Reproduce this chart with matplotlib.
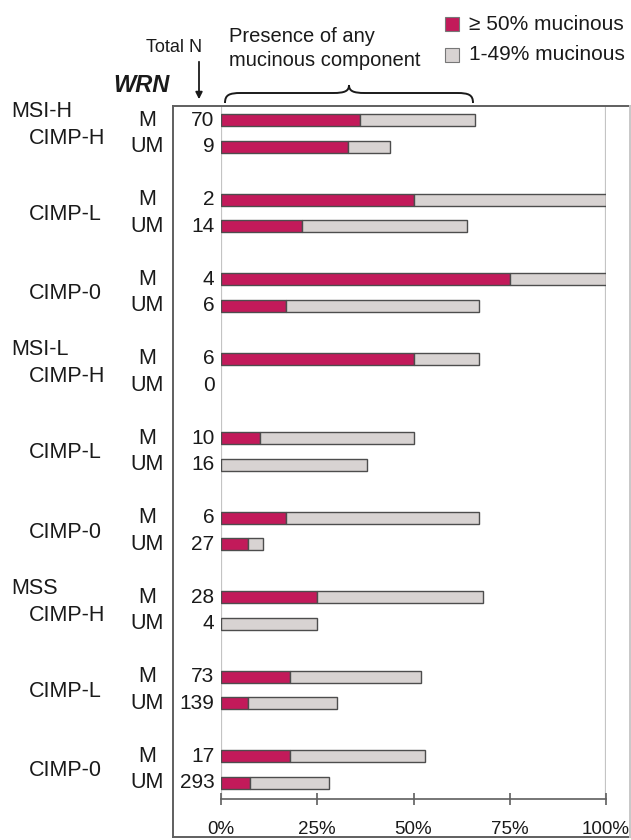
import matplotlib
matplotlib.use("Agg")
import matplotlib.pyplot as plt
import numpy as np
from matplotlib.patches import Rectangle, PathPatch, FancyArrowPatch
from matplotlib.path import Path
from matplotlib.lines import Line2D

plt.rcParams['font.family'] = ['Liberation Sans', 'DejaVu Sans']

# Subgroups: MSI status x CIMP status, each split by WRN methylation (M / UM)
msi_status = ['MSI-H', 'MSI-L', 'MSS']
cimp_status = ['CIMP-H', 'CIMP-L', 'CIMP-0']
wrn_status = ['M', 'UM']

total_n = [70, 9, 2, 14, 4, 6,
           6, 0, 10, 16, 6, 27,
           28, 4, 73, 139, 17, 293]

# Percent of tumours with >= 50% mucinous component
pct_ge50 = [36, 33, 50, 21, 75, 17,
            50, 0, 10, 0, 17, 7,
            25, 0, 18, 7, 18, 7.5]

# Percent of tumours with 1-49% mucinous component
pct_1_49 = [30, 11, 50, 43, 25, 50,
            17, 0, 40, 38, 50, 4,
            43, 25, 34, 23, 35, 20.5]

tick_values = [0, 25, 50, 75, 100]
tick_labels = ['0%', '25%', '50%', '75%', '100%']
legend_labels = ['\u2265 50% mucinous', '1-49% mucinous']

RED = '#C21A5A'
GREY = '#D8D3D2'
EDGE = '#4d4d4d'
TXT = '#1a1a1a'
FRAME = '#5f5f5f'

W, H = 631, 840
fig = plt.figure(figsize=(W / 100, H / 100), dpi=100)


def fx(x):
    return x / W


def fy(y):
    return 1 - y / H


# Outer frame around the plotting region
for (x0, y0), (x1, y1), col in [((173, 106), (640, 106), FRAME),
                                ((173, 106), (173, 837), FRAME),
                                ((173, 837), (640, 837), FRAME),
                                ((630, 106), (630, 837), '#c8c8c8')]:
    fig.add_artist(Line2D([fx(x0), fx(x1)], [fy(y0), fy(y1)],
                          transform=fig.transFigure, color=col, linewidth=1.4))

# Data axes: 0-100% mapped between the two light grid lines
ax = fig.add_axes([fx(221), fy(799), fx(606) - fx(221), fy(106) - fy(799)])
ax.set_xlim(0, 100)
ax.set_ylim(25.62, -0.53)
ax.patch.set_alpha(0)

n_rows = len(total_n)
y_pos = np.array([3 * (i // 2) + (i % 2) for i in range(n_rows)], dtype=float)
red = np.array(pct_ge50, dtype=float)
grey = np.array(pct_1_49, dtype=float)

for xv in (0, 100):
    ax.axvline(xv, color='#c4c4c4', linewidth=1.6, zorder=0)

bar_h = 0.45
m_red = red > 0
ax.barh(y_pos[m_red], red[m_red], height=bar_h, color=RED,
        edgecolor=EDGE, linewidth=1.0, zorder=3)
m_grey = grey > 0
ax.barh(y_pos[m_grey], grey[m_grey], left=red[m_grey], height=bar_h,
        color=GREY, edgecolor=EDGE, linewidth=1.0, zorder=3)

for spine in ('top', 'right', 'left'):
    ax.spines[spine].set_visible(False)
ax.spines['bottom'].set_color(FRAME)
ax.spines['bottom'].set_linewidth(1.2)
ax.set_yticks([])
ax.set_xticks(tick_values)
ax.set_xticklabels(tick_labels, fontsize=13.5, color=TXT)
ax.tick_params(axis='x', direction='inout', length=8, width=1.2,
               color=FRAME, pad=12)

# Total N and WRN labels for each row
for i in range(n_rows):
    ax.text(-1.7, y_pos[i], str(total_n[i]), ha='right', va='center',
            fontsize=15, color=TXT)
    ax.text(-19.2, y_pos[i], wrn_status[i % 2], ha='center', va='center',
            fontsize=15.5, color=TXT)

# Subgroup labels
for g in range(9):
    base = 3 * g
    cimp = cimp_status[g % 3]
    if g % 3 == 0:
        ax.text(-54.5, base - 0.33, msi_status[g // 3], ha='left', va='center',
                fontsize=15.5, color=TXT)
        ax.text(-49.8, base + 0.68, cimp, ha='left', va='center',
                fontsize=15.5, color=TXT)
    else:
        ax.text(-49.8, base + 0.55, cimp, ha='left', va='center',
                fontsize=15.5, color=TXT)

# Header annotations
fig.text(fx(174), fy(47), 'Total N', ha='center', va='center', fontsize=13, color=TXT)
fig.add_artist(FancyArrowPatch(
    (fx(199), fy(59)), (fx(199), fy(102)), transform=fig.transFigure,
    arrowstyle='-|>', mutation_scale=10, color=TXT, linewidth=1.3))
fig.text(fx(141), fy(85), 'WRN', ha='center', va='center', fontsize=17,
         fontweight='bold', fontstyle='italic', color=TXT)
fig.text(fx(229), fy(37), 'Presence of any', ha='left', va='center', fontsize=14.5, color=TXT)
fig.text(fx(229), fy(61), 'mucinous component', ha='left', va='center', fontsize=14.5, color=TXT)

# Curly brace spanning the "any mucinous component" range
xl, xr, xm = 225, 473, 349
yb, yh, yt = 103, 93, 85
pts = [(xl, yb), (xl, yh + 2), (xl + 4, yh), (xl + 16, yh),
       (xm - 16, yh), (xm - 4, yh), (xm, yh - 2), (xm, yt),
       (xm, yh - 2), (xm + 4, yh), (xm + 16, yh),
       (xr - 16, yh), (xr - 4, yh), (xr, yh + 2), (xr, yb)]
codes = [Path.MOVETO, Path.CURVE4, Path.CURVE4, Path.CURVE4,
         Path.LINETO, Path.CURVE4, Path.CURVE4, Path.CURVE4,
         Path.CURVE4, Path.CURVE4, Path.CURVE4,
         Path.LINETO, Path.CURVE4, Path.CURVE4, Path.CURVE4]
brace = Path([(fx(x), fy(y)) for x, y in pts], codes)
fig.add_artist(PathPatch(brace, transform=fig.transFigure, fill=False,
                         edgecolor=TXT, linewidth=1.4))

# Legend: colour swatches with labels
for (yc, col), lab in zip([(24, RED), (55, GREY)], legend_labels):
    fig.add_artist(Rectangle((fx(445), fy(yc + 7)), fx(14), 14 / H,
                             transform=fig.transFigure, facecolor=col,
                             edgecolor='#777777', linewidth=0.8))
    fig.text(fx(469), fy(yc), lab, ha='left', va='center', fontsize=15, color=TXT)

fig.savefig('out.png', dpi=100)
